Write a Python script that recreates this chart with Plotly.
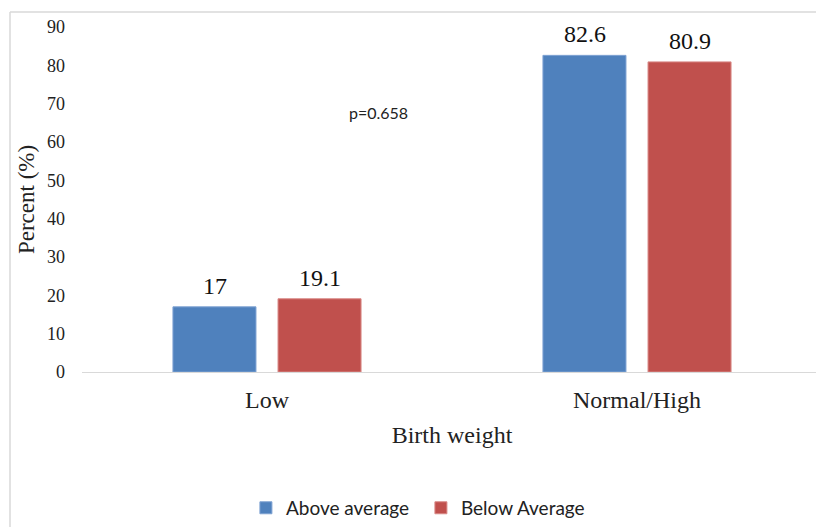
import plotly.graph_objects as go

categories = ["Low", "Normal/High"]
above_avg = [17, 82.6]
below_avg = [19.1, 80.9]
label_above = ["17", "82.6"]
label_below = ["19.1", "80.9"]
y_ticks = [0, 10, 20, 30, 40, 50, 60, 70, 80, 90]

serif = "Liberation Serif, Times New Roman, serif"
sans = "Lato, Calibri, sans-serif"

W, H = 816, 519
ML, MR, MT, MB = 74, 2, 19, 155
PW, PH = W - ML - MR, H - MT - MB

fig = go.Figure()
fig.add_trace(go.Bar(
    x=categories, y=above_avg, name="Above average",
    marker=dict(color="#4F81BD", line=dict(color="#7FA3D3", width=1)),
))
fig.add_trace(go.Bar(
    x=categories, y=below_avg, name="Below Average",
    marker=dict(color="#C0504D", line=dict(color="#D98A88", width=1)),
))

annotations = []
for cat, v, t in zip(categories, above_avg, label_above):
    annotations.append(dict(x=cat, y=v, text=t, xref="x", yref="y", showarrow=False,
                            xanchor="center", yanchor="bottom", xshift=-52.5, yshift=6,
                            font=dict(family=serif, size=24, color="#111111")))
for cat, v, t in zip(categories, below_avg, label_below):
    annotations.append(dict(x=cat, y=v, text=t, xref="x", yref="y", showarrow=False,
                            xanchor="center", yanchor="bottom", xshift=52.5, yshift=6,
                            font=dict(family=serif, size=24, color="#111111")))
annotations.append(dict(
    text="p=0.658", xref="paper", yref="paper", x=0.4, y=0.751,
    xanchor="center", yanchor="middle", showarrow=False,
    font=dict(family=sans, size=16, color="#222222"),
))

bx = (2 - ML) / PW
by = (MT + PH - 4) / PH

fig.update_layout(
    width=W, height=H,
    margin=dict(l=ML, r=MR, t=MT, b=MB, autoexpand=False),
    paper_bgcolor="white", plot_bgcolor="white",
    barmode="group", bargap=0.432, bargroupgap=0.21,
    showlegend=True,
    legend=dict(orientation="h", x=0.458, xanchor="center", y=-0.394, yanchor="middle",
                font=dict(family=sans, size=19, color="#222222"),
                itemwidth=30, tracegroupgap=0, entrywidth=130),
    xaxis=dict(
        showline=True, linecolor="#D9D9D9", linewidth=1,
        ticks="", ticklabelstandoff=6,
        tickfont=dict(family=serif, size=24, color="#222222"),
        title=dict(text="Birth weight", font=dict(family=serif, size=24, color="#222222"), standoff=14),
        showgrid=False, zeroline=False,
    ),
    yaxis=dict(
        range=[0, 90], tickvals=y_ticks, showgrid=False, zeroline=False,
        showline=False, ticks="", ticklabelstandoff=16,
        tickfont=dict(family=serif, size=18, color="#222222"),
        title=dict(text="Percent (%)", font=dict(family=serif, size=23, color="#222222"), standoff=5),
    ),
    annotations=annotations,
    shapes=[
        dict(type="line", xref="paper", yref="paper", x0=bx, x1=1.05,
             y0=by, y1=by, line=dict(color="#D9D9D9", width=1.5)),
        dict(type="line", xref="paper", yref="paper", x0=bx, x1=bx,
             y0=by, y1=-0.6, line=dict(color="#D9D9D9", width=1.5)),
    ],
)

fig.write_html("out.html")
